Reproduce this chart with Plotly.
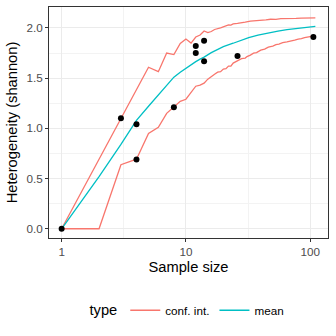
import plotly.graph_objects as go

# ---- data ----
upper_n = [1, 2, 3, 4, 5, 6, 7, 8, 9, 10, 11, 12, 13, 14, 15, 16, 17, 19, 20, 21, 22, 23, 24, 26, 28, 30, 33, 36,
           40, 44, 48, 53, 58, 64, 70, 77, 85, 92, 100, 105, 110]
upper_v = [0, 0.693, 1.099, 1.386, 1.609, 1.565, 1.75, 1.735, 1.845, 1.89, 1.85, 1.91, 1.93, 1.97, 1.955, 1.965,
           1.985, 2.00, 2.012, 2.018, 2.03, 2.028, 2.04, 2.045, 2.055, 2.058, 2.068, 2.07,
           2.078, 2.08, 2.087, 2.086, 2.093, 2.092, 2.096, 2.095, 2.098, 2.097, 2.10, 2.099, 2.10]

lower_n = [1, 2, 3, 4, 5, 6, 7, 8, 9, 10, 11, 12, 13, 14, 15, 16, 17, 18, 19, 20, 21, 22, 23, 24, 26, 28, 30, 31,
           33, 35, 37, 40, 43, 46, 50, 53, 56, 60, 65, 70, 75, 80, 85, 90, 95, 100, 105, 110]
lower_v = [0, 0, 0.638, 0.693, 0.95, 1.01, 1.15, 1.21, 1.27, 1.29, 1.36, 1.42, 1.43, 1.45, 1.49, 1.52, 1.54, 1.56,
           1.565, 1.59, 1.595, 1.62, 1.62, 1.65, 1.675, 1.695, 1.70, 1.715,
           1.73, 1.75, 1.755, 1.78, 1.79, 1.81, 1.82, 1.835, 1.84, 1.855, 1.862, 1.875, 1.88, 1.89, 1.893, 1.905,
           1.908, 1.915, 1.918, 1.925]

mean_n = [1, 2, 3, 4, 5, 6, 7, 8, 9, 10, 11, 12, 13, 14, 16, 18, 20, 24, 28, 32, 38, 45, 55, 65, 80, 95, 110]
mean_v = [0, 0.52, 0.84, 1.08, 1.22, 1.33, 1.43, 1.51, 1.56, 1.60, 1.635, 1.665, 1.69, 1.71, 1.755, 1.79, 1.815,
          1.848, 1.88, 1.905, 1.93, 1.95, 1.968, 1.983, 1.998, 2.008, 2.017]

obs_n = [1, 3, 4, 4, 8, 12, 12, 14, 14, 26, 106]
obs_v = [0, 1.10, 1.04, 0.69, 1.21, 1.82, 1.75, 1.874, 1.668, 1.72, 1.91]

RED = "#F8766D"
TEAL = "#00BFC4"
FONT = "Liberation Sans, Arial, sans-serif"

fig = go.Figure()
fig.add_trace(go.Scatter(
    x=upper_n + [None] + lower_n, y=upper_v + [None] + lower_v,
    mode="lines", line=dict(color=RED, width=1.3), name="conf. int.", connectgaps=False))
fig.add_trace(go.Scatter(
    x=mean_n, y=mean_v, mode="lines", line=dict(color=TEAL, width=1.3), name="mean"))
fig.add_trace(go.Scatter(
    x=obs_n, y=obs_v, mode="markers", marker=dict(color="black", size=6), showlegend=False))

fig.update_layout(
    width=336, height=336,
    margin=dict(l=49, r=8, t=7, b=98),
    paper_bgcolor="white", plot_bgcolor="white",
    font=dict(family=FONT, color="black", size=12),
    showlegend=True,
    legend=dict(
        orientation="h", x=0.5, xanchor="center", y=-0.315, yanchor="middle",
        title=dict(text="type", font=dict(size=14.7), side="left"),
        font=dict(size=11.7), itemwidth=30, tracegroupgap=0,
    ),
)
fig.update_xaxes(
    type="log", range=[-0.1017, 2.1431],
    tickvals=[1, 10, 100], ticktext=["1", "10", "100"],
    ticks="outside", ticklen=3, tickcolor="#333333", tickwidth=1,
    tickfont=dict(size=11.7, color="#4D4D4D"),
    showgrid=True, gridcolor="#EBEBEB", gridwidth=1.1,
    minor=dict(tickvals=[10 ** 0.5, 10 ** 1.5], showgrid=True, gridcolor="#F3F3F3", gridwidth=0.6, ticks=""),
    showline=True, linecolor="#333333", linewidth=1, mirror=True, zeroline=False,
    title=dict(text="Sample size", font=dict(size=14.7), standoff=4),
)
fig.update_yaxes(
    range=[-0.092, 2.209],
    tickvals=[0, 0.5, 1.0, 1.5, 2.0], ticktext=["0.0", "0.5", "1.0", "1.5", "2.0"],
    ticks="outside", ticklen=3, tickcolor="#333333", tickwidth=1,
    tickfont=dict(size=11.7, color="#4D4D4D"),
    showgrid=True, gridcolor="#EBEBEB", gridwidth=1.1,
    minor=dict(tickvals=[0.25, 0.75, 1.25, 1.75], showgrid=True, gridcolor="#F3F3F3", gridwidth=0.6, ticks=""),
    showline=True, linecolor="#333333", linewidth=1, mirror=True, zeroline=False,
    title=dict(text="Heterogeneity (shannon)", font=dict(size=14.7), standoff=5),
)

fig.write_html("out.html")
